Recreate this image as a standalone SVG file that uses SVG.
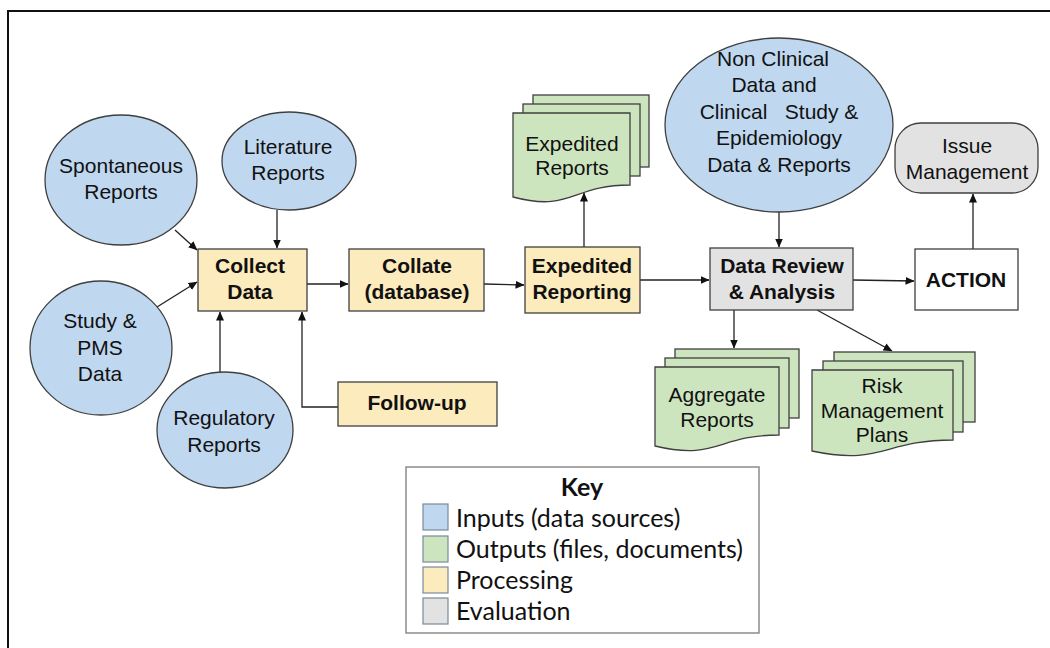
<svg xmlns="http://www.w3.org/2000/svg" width="1050" height="648" viewBox="0 0 1050 648">
<style>
.in{fill:#bfd7ef;stroke:#3f3f3f;stroke-width:1.3}
.out{fill:#cde5bf;stroke:#3f3f3f;stroke-width:1.3}
.proc{fill:#fcebbd;stroke:#3f3f3f;stroke-width:1.3}
.eval{fill:#e2e2e2;stroke:#3f3f3f;stroke-width:1.3}
.plain{fill:#ffffff;stroke:#3f3f3f;stroke-width:1.3}
.t{font-family:"Liberation Sans",Arial,sans-serif;font-size:21px;fill:#111;text-anchor:middle}
.b{font-weight:bold}
.c{stroke:#222;stroke-width:1.3;fill:none;marker-end:url(#ah)}
.k{font-family:Lato,"Open Sans",sans-serif;font-size:25px;fill:#111}
</style>
<defs>
<marker id="ah" markerWidth="9" markerHeight="8" refX="8.5" refY="4" orient="auto" markerUnits="userSpaceOnUse">
<path d="M0,0 L9,4 L0,8 z" fill="#111"/>
</marker>
</defs>
<rect width="1050" height="648" fill="#ffffff"/>
<path d="M1050,11 H8 V648" fill="none" stroke="#111" stroke-width="2"/>

<g id="connectors">
<line class="c" x1="175" y1="230" x2="197" y2="250"/>
<line class="c" x1="277" y1="210" x2="277" y2="248"/>
<line class="c" x1="157" y1="307" x2="197" y2="282"/>
<line class="c" x1="220" y1="372" x2="220" y2="312"/>
<polyline class="c" points="338,407 302,407 302,312"/>
<line class="c" x1="307" y1="284" x2="348" y2="284"/>
<line class="c" x1="484" y1="284" x2="524" y2="285"/>
<line class="c" x1="584" y1="247" x2="584" y2="193"/>
<line class="c" x1="640" y1="280" x2="709" y2="280"/>
<line class="c" x1="779" y1="212" x2="779" y2="247"/>
<line class="c" x1="853" y1="280" x2="914" y2="281"/>
<line class="c" x1="973" y1="249" x2="973" y2="194"/>
<line class="c" x1="734" y1="310" x2="734" y2="348"/>
<line class="c" x1="817" y1="310" x2="892" y2="351"/>
</g>

<g id="spontaneous">
<ellipse class="in" cx="121" cy="180" rx="76" ry="65"/>
<text class="t" x="121" y="173">Spontaneous</text>
<text class="t" x="121" y="199">Reports</text>
</g>
<g id="literature">
<ellipse class="in" cx="289" cy="161" rx="67" ry="49"/>
<text class="t" x="288" y="154">Literature</text>
<text class="t" x="288" y="180">Reports</text>
</g>
<g id="study">
<ellipse class="in" cx="101" cy="348" rx="71" ry="67"/>
<text class="t" x="100" y="328">Study &amp;</text>
<text class="t" x="100" y="355">PMS</text>
<text class="t" x="100" y="381">Data</text>
</g>
<g id="regulatory">
<ellipse class="in" cx="225" cy="430" rx="68" ry="58"/>
<text class="t" x="224" y="425">Regulatory</text>
<text class="t" x="224" y="452">Reports</text>
</g>
<g id="collect">
<rect class="proc" x="198" y="249" width="109" height="62"/>
<text class="t b" x="250" y="273">Collect</text>
<text class="t b" x="250" y="299">Data</text>
</g>
<g id="followup">
<rect class="proc" x="338" y="382" width="159" height="44"/>
<text class="t b" x="417" y="410">Follow-up</text>
</g>
<g id="collate">
<rect class="proc" x="349" y="249" width="135" height="62"/>
<text class="t b" x="417" y="273">Collate</text>
<text class="t b" x="417" y="299">(database)</text>
</g>
<g id="expedited">
<rect class="proc" x="525" y="247" width="115" height="66"/>
<text class="t b" x="582" y="273">Expedited</text>
<text class="t b" x="582" y="299">Reporting</text>
</g>
<g id="expedited-reports">
<rect class="out" x="533" y="95" width="116" height="72"/>
<rect class="out" x="523" y="104" width="117" height="72"/>
<path class="out" d="M513,113 H630 V185 C571.5,185 571.5,212.6 513,197 Z"/>
<text class="t" x="572" y="151">Expedited</text>
<text class="t" x="572" y="175">Reports</text>
</g>
<g id="nonclinical">
<ellipse class="in" cx="779" cy="125" rx="114" ry="87"/>
<text class="t" x="773" y="66">Non Clinical</text>
<text class="t" x="774" y="92">Data and</text>
<text class="t" x="779" y="119" style="white-space:pre">Clinical   Study &amp;</text>
<text class="t" x="779" y="145">Epidemiology</text>
<text class="t" x="779" y="172">Data &amp; Reports</text>
</g>
<g id="datareview">
<rect class="eval" x="710" y="248" width="143" height="62"/>
<text class="t b" x="782" y="273">Data Review</text>
<text class="t b" x="782" y="299">&amp; Analysis</text>
</g>
<g id="action">
<rect class="plain" x="915" y="249" width="103" height="61"/>
<text class="t b" x="966" y="287">ACTION</text>
</g>
<g id="issue">
<rect class="eval" x="895" y="123" width="143" height="70" rx="26"/>
<text class="t" x="967" y="153">Issue</text>
<text class="t" x="967" y="179">Management</text>
</g>
<g id="aggregate">
<rect class="out" x="675" y="349" width="124" height="69"/>
<rect class="out" x="665" y="358" width="124" height="70"/>
<path class="out" d="M655,367 H779 V435 C717,435 717,461 655,446 Z"/>
<text class="t" x="717" y="402">Aggregate</text>
<text class="t" x="717" y="427">Reports</text>
</g>
<g id="risk">
<rect class="out" x="834" y="352" width="141" height="70"/>
<rect class="out" x="823" y="361" width="140" height="71"/>
<path class="out" d="M812,370 H953 V440 C882.5,440 882.5,466 812,451 Z"/>
<text class="t" x="882" y="393">Risk</text>
<text class="t" x="882" y="418">Management</text>
<text class="t" x="882" y="442">Plans</text>
</g>

<g id="key">
<rect x="406" y="467" width="353" height="166" fill="#ffffff" stroke="#8c8c8c" stroke-width="1.5"/>
<text class="k" x="582" y="496" text-anchor="middle" font-weight="bold">Key</text>
<rect x="423" y="504" width="25" height="26" fill="#bfd7ef" stroke="#7a8a9a" stroke-width="1.2"/>
<text class="k" x="456" y="527">Inputs (data sources)</text>
<rect x="423" y="536" width="25" height="26" fill="#cde5bf" stroke="#7a8a9a" stroke-width="1.2"/>
<text class="k" x="456" y="558">Outputs (files, documents)</text>
<rect x="423" y="567" width="25" height="26" fill="#fcebbd" stroke="#7a8a9a" stroke-width="1.2"/>
<text class="k" x="456" y="589">Processing</text>
<rect x="423" y="598" width="25" height="26" fill="#e2e2e2" stroke="#7a8a9a" stroke-width="1.2"/>
<text class="k" x="456" y="620">Evaluation</text>
</g>
</svg>
